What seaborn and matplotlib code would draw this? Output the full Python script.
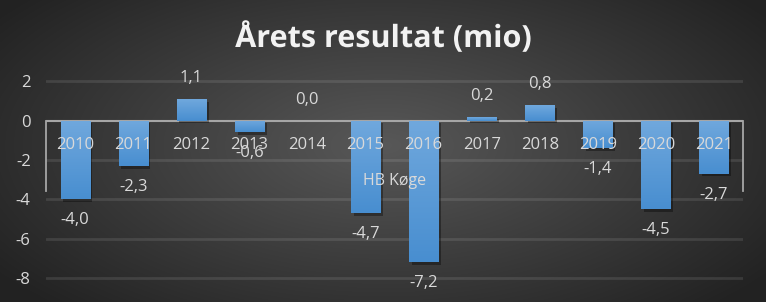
import numpy as np
import pandas as pd
import matplotlib
matplotlib.use("Agg")
import matplotlib.pyplot as plt
import matplotlib.patheffects as pe
import seaborn as sns

years = ["2010", "2011", "2012", "2013", "2014", "2015", "2016", "2017", "2018", "2019", "2020", "2021"]
values = [-4.0, -2.3, 1.1, -0.6, 0.0, -4.7, -7.2, 0.2, 0.8, -1.4, -4.5, -2.7]
yticks = [2, 0, -2, -4, -6, -8]
title = "Årets resultat (mio)"
series_name = "HB Køge"

sns.set_theme(style="white")
plt.rcParams["font.family"] = ["Open Sans", "DejaVu Sans"]
plt.rcParams["axes.unicode_minus"] = False

W, H = 766, 302
fig = plt.figure(figsize=(W / 100, H / 100), dpi=100)

# radial gradient background
bg = fig.add_axes([0, 0, 1, 1], zorder=-10)
yy, xx = np.mgrid[0:H, 0:W]
r = np.sqrt(((xx - W * 0.5) / (W * 0.62)) ** 2 + ((yy - H * 0.48) / (H * 0.75)) ** 2)
r = np.clip(r, 0, 1)
c_in = np.array([0x58, 0x58, 0x58]) / 255
c_out = np.array([0x22, 0x22, 0x22]) / 255
img = c_in[None, None, :] * (1 - r[..., None]) + c_out[None, None, :] * r[..., None]
bg.imshow(img, aspect="auto", extent=[0, 1, 0, 1])
bg.axis("off")

ax = fig.add_axes([46 / W, 0.0467, (743 - 46) / W, 0.764 - 0.0467])
ax.patch.set_alpha(0)

df = pd.DataFrame({"year": years, "value": values})
sns.barplot(data=df, x="year", y="value", ax=ax, width=0.5, color="#5b9bd5",
            saturation=1, zorder=3, linewidth=0, edgecolor="none")

ax.set_xlim(-0.5, len(years) - 0.5)
ax.set_ylim(-8.5, 2.5)

# bar gradient + shadow
grad = np.linspace(0, 1, 100)[:, None]
top_c = np.array([0x70, 0xa8, 0xdd]) / 255
bot_c = np.array([0x48, 0x8e, 0xd0]) / 255
gimg = (top_c[None, None, :] * (1 - grad[..., None]) + bot_c[None, None, :] * grad[..., None])
for p in ax.patches:
    p.set_linewidth(0)
    p.set_edgecolor("none")
    p.set_path_effects([pe.SimplePatchShadow(offset=(2, -2), shadow_rgbFace="black", alpha=0.35),
                        pe.Normal()])
    x0, w = p.get_x(), p.get_width()
    y0, h = p.get_y(), p.get_height()
    lo, hi = min(y0, y0 + h), max(y0, y0 + h)
    if hi - lo < 1e-9:
        continue
    im = ax.imshow(gimg, extent=[x0, x0 + w, lo, hi], aspect="auto", zorder=3.1, origin="upper")
    im.set_clip_path(p)
ax.set_xlim(-0.5, len(years) - 0.5)
ax.set_ylim(-8.5, 2.5)

# grid
for t in yticks:
    if t != 0:
        ax.axhline(t, color="white", alpha=0.1, lw=2, zorder=1)

ax.set_yticks(yticks)
ax.set_yticklabels([str(t) for t in yticks])
ax.set_xticks([])
ax.set_xlabel("")
ax.set_ylabel("")
ax.tick_params(axis="y", length=0, pad=11, labelsize=12, labelcolor="#d9d9d9")

for s in ["top", "bottom"]:
    ax.spines[s].set_visible(False)
for s in ["left", "right"]:
    ax.spines[s].set_color("#a6a6a6")
    ax.spines[s].set_linewidth(1.3)
    ax.spines[s].set_bounds(-3.6, 0)
    ax.spines[s].set_zorder(2)
ax.axhline(0, color="#a6a6a6", lw=1.5, zorder=2)

# labels
for i, (yr, v) in enumerate(zip(years, values)):
    ax.annotate(yr, (i, 0), xytext=(0, -17.5), textcoords="offset points",
                ha="center", va="center", fontsize=12, color="#d9d9d9", zorder=5)
    off = 15 if v >= 0 else -15
    ax.annotate(f"{v:.1f}".replace(".", ","), (i, v), xytext=(0, off),
                textcoords="offset points", ha="center", va="center",
                fontsize=12, color="#d9d9d9", zorder=5)

ax.text(5.5, -3.05, series_name, ha="center", va="center", fontsize=11.5,
        color="#d9d9d9", zorder=5)

fig.text(0.5, 1 - 38 / H, title, ha="center", va="center", fontsize=22,
         fontweight="bold", color="#f2f2f2",
         path_effects=[pe.SimpleLineShadow(offset=(1.5, -1.5), alpha=0.5), pe.Normal()])

fig.savefig("out.png", dpi=100)
